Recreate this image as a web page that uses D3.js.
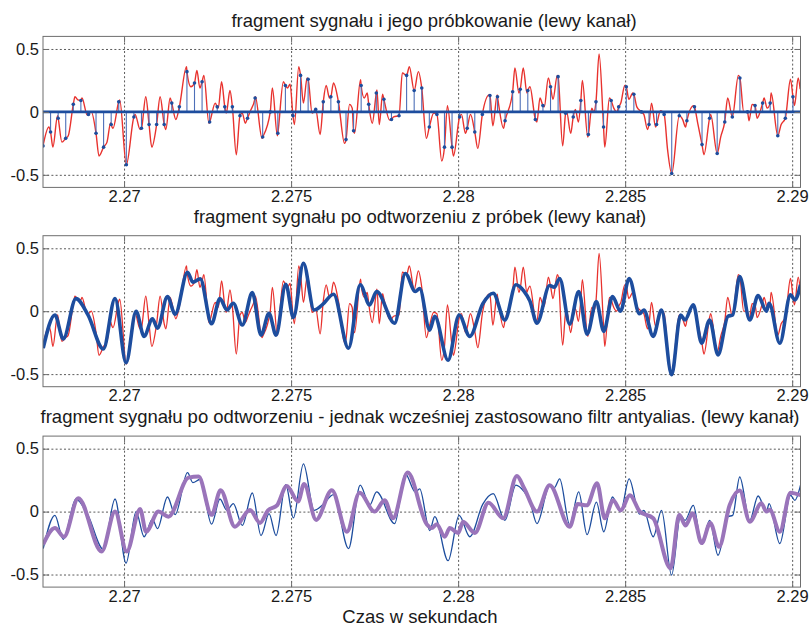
<!DOCTYPE html>
<html>
<head>
<meta charset="utf-8">
<script src="https://cdn.jsdelivr.net/npm/d3@7"></script>
<style>
  body { margin: 0; background: #fff; }
  svg { display: block; }
  text { font-family: "Liberation Sans", Arial, Helvetica, sans-serif; fill: #1a1a1a; }
</style>
</head>
<body>
<svg id="chart" width="812" height="625"></svg>
<script>
// ---- axis settings -------------------------------------------------------
const xDomain = [2.2675737, 2.2902494];
const yDomain = [-0.6, 0.6];
const xTicks = [2.27, 2.275, 2.28, 2.285, 2.29];
const yTicks = [-0.5, 0, 0.5];

const titles = [
  "fragment sygnału i jego próbkowanie (lewy kanał)",
  "fragment sygnału po odtworzeniu z próbek (lewy kanał)",
  "fragment sygnału po odtworzeniu - jednak wcześniej zastosowano filtr antyalias. (lewy kanał)"
];
const xLabel = "Czas w sekundach";

// ---- sampled signal: 4410 Hz, first sample at 2.2675737 s ----------------
const sampleStart = 2.2675737;
const sampleRate = 4410;
const sampleValues = [
  -0.27, -0.16, -0.05, -0.21, 0.06, 0.09, -0.02, -0.17, -0.28, -0.10,
   0.08, -0.42, -0.04, -0.13, -0.10, -0.10, -0.10, 0.07, 0.04, 0.32,
   0.23, 0.24, -0.08, 0.04, 0.04, 0.04, -0.03, -0.05, 0.11, -0.20,
   0.00, -0.17, 0.21, -0.03, 0.29, 0.26, 0.02, 0.08, 0.12, 0.08,
  -0.22, -0.15, 0.21, 0.06, 0.15, 0.10, -0.06, -0.03, 0.29, 0.17,
   0.19, -0.12, -0.02, -0.28, -0.28, -0.04, -0.13, -0.16, -0.02, 0.13,
   0.12, -0.07, 0.16, 0.18, 0.17, -0.06, 0.05, 0.20, 0.28, -0.01,
  -0.04, 0.09, -0.18, 0.08, -0.12, 0.09, 0.04, 0.20, 0.14, 0.00,
  -0.10, -0.10, -0.02, -0.49, -0.03, -0.07, 0.04, -0.26, -0.05, -0.33,
  -0.08, -0.04, 0.27, 0.00, 0.05, 0.07, 0.07, -0.19, -0.05, 0.12
];

// ---- original (44.1 kHz) signal between the samples ----------------------
const analogTimes = [
  2.26775, 2.26787, 2.26801, 2.26814, 2.26833, 2.26853, 2.26862, 2.26874, 2.26890, 2.26902,
  2.26925, 2.26949, 2.26960, 2.26967, 2.26987, 2.27033, 2.27048, 2.27065, 2.27083, 2.27108,
  2.27125, 2.27138, 2.27155, 2.27187, 2.27200, 2.27218, 2.27227, 2.27239, 2.27254, 2.27273,
  2.27282, 2.27292, 2.27306, 2.27317, 2.27336, 2.27354, 2.27363, 2.27377, 2.27393, 2.27413,
  2.27444, 2.27459, 2.27477, 2.27489, 2.27497, 2.27510, 2.27523, 2.27537, 2.27548, 2.27563,
  2.27587, 2.27605, 2.27615, 2.27627, 2.27660, 2.27675, 2.27683, 2.27690, 2.27708, 2.27719,
  2.27728, 2.27743, 2.27757, 2.27764, 2.27774, 2.27795, 2.27807, 2.27833, 2.27854, 2.27881,
  2.27905, 2.27927, 2.27951, 2.27968, 2.27986, 2.28010, 2.28022, 2.28037, 2.28059, 2.28093,
  2.28104, 2.28117, 2.28136, 2.28170, 2.28182, 2.28195, 2.28206, 2.28215, 2.28236, 2.28245,
  2.28258, 2.28270, 2.28284, 2.28297, 2.28313, 2.28325, 2.28337, 2.28351, 2.28360, 2.28372,
  2.28388, 2.28400, 2.28406, 2.28422, 2.28439, 2.28453, 2.28466, 2.28475, 2.28487, 2.28499,
  2.28511, 2.28523, 2.28535, 2.28556, 2.28567, 2.28579, 2.28591, 2.28606, 2.28627, 2.28672,
  2.28681, 2.28705, 2.28718, 2.28736, 2.28756, 2.28786, 2.28807, 2.28839, 2.28855, 2.28871,
  2.28880, 2.28895, 2.28916, 2.28925, 2.28937, 2.28967, 2.28995, 2.29007, 2.29018, 2.29024
];
const analogValues = [
  -0.12, -0.28, -0.03, -0.24, -0.19, 0.12, 0.095, 0.11, -0.025, 0.00,
  -0.35, -0.24, -0.085, -0.13, 0.095, -0.02, -0.14, 0.12, -0.28, 0.12,
  -0.14, 0.11, -0.06, 0.36, 0.20, 0.33, 0.19, 0.29, -0.09, 0.07,
   0.03, 0.24, -0.01, 0.17, -0.34, -0.01, -0.09, 0.00, 0.12, -0.21,
   0.19, -0.19, 0.24, 0.19, 0.22, -0.10, 0.36, 0.07, 0.27, -0.01,
  -0.18, 0.21, 0.11, 0.23, -0.25, 0.06, 0.03, -0.17, 0.255, 0.11,
   0.15, -0.09, 0.175, -0.10, 0.14, -0.065, -0.04, 0.31, 0.36, 0.32,
  -0.21, -0.01, -0.39, 0.05, -0.35, -0.02, -0.17, -0.02, -0.29, 0.135,
  -0.11, 0.135, -0.13, 0.35, 0.15, 0.35, 0.15, 0.20, -0.08, 0.11,
   0.04, 0.27, 0.10, 0.29, -0.27, 0.00, -0.17, 0.02, -0.08, 0.25,
  -0.20, 0.03, 0.00, 0.46, -0.28, 0.11, 0.03, 0.00, 0.07, 0.21,
   0.10, 0.15, 0.04, -0.02, -0.14, 0.07, -0.12, 0.01, -0.30, -0.06,
  -0.12, 0.05, -0.10, -0.34, -0.02, -0.20, 0.11, 0.29, 0.00, -0.07,
   0.06, -0.05, 0.11, 0.03, 0.15, -0.10, 0.26, 0.05, 0.27, 0.18
];

// ---- signal rebuilt from the samples --------------------------------------
const rebuiltTimes = [
  2.26758, 2.26793, 2.26818, 2.26856, 2.26892, 2.26938, 2.26973, 2.27006, 2.27036, 2.27060,
  2.27085, 2.27100, 2.27130, 2.27153, 2.27190, 2.27206, 2.27228, 2.27262, 2.27287, 2.27308,
  2.27327, 2.27354, 2.27384, 2.27410, 2.27434, 2.27455, 2.27484, 2.27507, 2.27537, 2.27569,
  2.27593, 2.27627, 2.27672, 2.27707, 2.27735, 2.27756, 2.27810, 2.27842, 2.27872, 2.27885,
  2.27915, 2.27930, 2.27970, 2.28003, 2.28035, 2.28074, 2.28105, 2.28140, 2.28173, 2.28197,
  2.28215, 2.28236, 2.28274, 2.28288, 2.28304, 2.28334, 2.28361, 2.28386, 2.28414, 2.28436,
  2.28462, 2.28486, 2.28512, 2.28543, 2.28556, 2.28584, 2.28609, 2.28639, 2.28666, 2.28679,
  2.28704, 2.28729, 2.28753, 2.28778, 2.28808, 2.28822, 2.28843, 2.28873, 2.28898, 2.28923,
  2.28931, 2.28963, 2.28995, 2.29008, 2.29025
];
const rebuiltValues = [
  -0.294, -0.03, -0.22, 0.10, -0.03, -0.30, 0.10, -0.41, 0.00, -0.20,
  -0.06, -0.135, 0.116, -0.024, 0.31, 0.23, 0.257, -0.10, 0.10, 0.01,
   0.063, -0.11, 0.148, -0.19, -0.016, -0.19, 0.214, -0.05, 0.38, 0.01,
   0.05, 0.135, -0.294, 0.21, 0.05, 0.156, -0.095, 0.30, 0.156, 0.18,
  -0.15, -0.04, -0.39, -0.03, -0.20, 0.06, 0.143, -0.07, 0.21, 0.16,
   0.08, -0.095, 0.204, 0.19, 0.26, -0.103, 0.156, -0.183, 0.076, -0.16,
   0.116, 0.00, 0.26, -0.02, 0.01, -0.20, 0.01, -0.505, -0.03, -0.07,
   0.05, -0.254, -0.07, -0.347, -0.04, -0.03, 0.275, -0.07, 0.124, 0.00,
   0.063, -0.254, 0.13, 0.09, 0.21
];

// ---- rebuilt signal with anti-alias filtering before sampling -------------
const filteredTimes = [
  2.26758, 2.26793, 2.26820, 2.26863, 2.26933, 2.26973, 2.27008, 2.27048, 2.27066, 2.27103,
  2.27133, 2.27193, 2.27223, 2.27262, 2.27289, 2.27332, 2.27377, 2.27407, 2.27431, 2.27458,
  2.27487, 2.27521, 2.27539, 2.27575, 2.27622, 2.27667, 2.27705, 2.27750, 2.27780, 2.27805,
  2.27849, 2.27906, 2.27921, 2.27936, 2.27960, 2.27975, 2.28000, 2.28015, 2.28050, 2.28091,
  2.28135, 2.28176, 2.28197, 2.28236, 2.28274, 2.28334, 2.28358, 2.28385, 2.28416, 2.28439,
  2.28464, 2.28487, 2.28514, 2.28544, 2.28584, 2.28636, 2.28662, 2.28681, 2.28702, 2.28729,
  2.28755, 2.28781, 2.28813, 2.28843, 2.28873, 2.28908, 2.28923, 2.28933, 2.28963, 2.28995,
  2.29025
];
const filteredValues = [
  -0.26, -0.13, -0.20, 0.106, -0.317, 0.00, -0.317, 0.02, -0.16, 0.00,
  -0.04, 0.27, 0.278, -0.026, 0.17, -0.12, 0.013, -0.09, 0.01, 0.05,
   0.204, 0.08, 0.22, -0.066, 0.17, -0.16, 0.15, 0.00, 0.09, -0.053,
   0.31, -0.10, -0.13, -0.10, -0.20, -0.13, -0.17, -0.08, -0.17, 0.07,
  -0.053, 0.283, 0.19, 0.00, 0.21, -0.12, 0.06, 0.05, 0.225, -0.053,
   0.09, 0.01, 0.13, 0.00, -0.053, -0.45, -0.026, -0.11, -0.013, -0.25,
  -0.09, -0.28, 0.053, 0.167, -0.08, 0.066, 0.00, 0.015, -0.16, 0.15,
   0.13
];

// ---- colours ---------------------------------------------------------------
const RED = "#e8322e";
const BLUE = "#1d4d9e";
const STEM = "#4d6fb8";
const PURPLE = "#9a74ba";
const FRAME = "#6e6e6e";
const GRID = "#5a5a5a";

// ---- layout ----------------------------------------------------------------
const plotLeft = 43, plotRight = 800.5, plotHeight = 151;
const panelTops = [36.4, 235.7, 436.1];
const titleBaselines = [26.5, 222.7, 422.7];

const svg = d3.select("#chart");
svg.append("rect").attr("width", 812).attr("height", 625).attr("fill", "#fff");

const x = d3.scaleLinear().domain(xDomain).range([plotLeft, plotRight]);

const zip = (ts, vs) => ts.map((t, i) => ({ t, v: vs[i] }));
const samples = sampleValues.map((v, k) => ({ t: sampleStart + k / sampleRate, v }));

// original signal: samples plus the detail between them, in time order
const analog = zip(analogTimes, analogValues).concat(samples)
  .sort((a, b) => a.t - b.t)
  .filter((d, i, arr) => i === 0 || d.t - arr[i - 1].t > 1e-7);
const rebuilt = zip(rebuiltTimes, rebuiltValues);
const filtered = zip(filteredTimes, filteredValues);

function panel(index) {
  const top = panelTops[index];
  const y = d3.scaleLinear().domain(yDomain).range([top + plotHeight, top]);
  const g = svg.append("g");

  const clipId = "clip" + index;
  svg.append("clipPath").attr("id", clipId)
    .append("rect").attr("x", plotLeft).attr("y", top)
    .attr("width", plotRight - plotLeft).attr("height", plotHeight);

  // dotted grid
  const gx = g.append("g").attr("transform", `translate(0,${top + plotHeight})`)
    .call(d3.axisBottom(x).tickValues(xTicks).tickSize(-plotHeight).tickFormat(""));
  const gy = g.append("g").attr("transform", `translate(${plotLeft},0)`)
    .call(d3.axisLeft(y).tickValues(yTicks).tickSize(-(plotRight - plotLeft)).tickFormat(""));
  [gx, gy].forEach(a => {
    a.select(".domain").remove();
    a.selectAll("line").attr("stroke", GRID).attr("stroke-width", 1).attr("stroke-dasharray", "2,2.2");
  });

  const plot = g.append("g").attr("clip-path", `url(#${clipId})`);
  const line = d3.line().x(d => x(d.t)).y(d => y(d.v)).curve(d3.curveMonotoneX);

  return { g, y, plot, line, top };
}

function frame(p) {
  const { g, y, top } = p;
  g.append("rect").attr("x", plotLeft).attr("y", top)
    .attr("width", plotRight - plotLeft).attr("height", plotHeight)
    .attr("fill", "none").attr("stroke", FRAME).attr("stroke-width", 1);

  const bottom = g.append("g").attr("transform", `translate(0,${top + plotHeight})`)
    .call(d3.axisBottom(x).tickValues(xTicks).tickSizeInner(-6).tickSizeOuter(0)
      .tickPadding(3).tickFormat(d => String(d)));
  const topAxis = g.append("g").attr("transform", `translate(0,${top})`)
    .call(d3.axisTop(x).tickValues(xTicks).tickSizeInner(-6).tickSizeOuter(0).tickFormat(""));
  const left = g.append("g").attr("transform", `translate(${plotLeft},0)`)
    .call(d3.axisLeft(y).tickValues(yTicks).tickSizeInner(-6).tickSizeOuter(0)
      .tickPadding(4).tickFormat(d => String(d)));
  const right = g.append("g").attr("transform", `translate(${plotRight},0)`)
    .call(d3.axisRight(y).tickValues(yTicks).tickSizeInner(-6).tickSizeOuter(0).tickFormat(""));
  [bottom, topAxis, left, right].forEach(a => {
    a.select(".domain").remove();
    a.selectAll("line").attr("stroke", FRAME);
    a.selectAll("text").attr("font-size", 16.5).attr("fill", "#1a1a1a")
      .attr("font-family", '"Liberation Sans", Arial, sans-serif');
  });
}

// ---- panel 1: original signal with its samples ----------------------------
{
  const p = panel(0);
  p.plot.append("path").datum(analog).attr("d", p.line)
    .attr("fill", "none").attr("stroke", RED).attr("stroke-width", 1.4);
  p.plot.selectAll(".stem").data(samples).join("line")
    .attr("x1", d => x(d.t)).attr("x2", d => x(d.t))
    .attr("y1", p.y(0)).attr("y2", d => p.y(d.v))
    .attr("stroke", STEM).attr("stroke-width", 1.1);
  p.plot.append("line").attr("x1", plotLeft).attr("x2", plotRight)
    .attr("y1", p.y(0)).attr("y2", p.y(0))
    .attr("stroke", BLUE).attr("stroke-width", 2.6);
  p.plot.selectAll(".dot").data(samples).join("circle")
    .attr("cx", d => x(d.t)).attr("cy", d => p.y(d.v)).attr("r", 1.8)
    .attr("fill", BLUE);
  frame(p);
}

// ---- panel 2: original vs rebuilt -----------------------------------------
{
  const p = panel(1);
  p.plot.append("path").datum(analog).attr("d", p.line)
    .attr("fill", "none").attr("stroke", RED).attr("stroke-width", 1.3);
  p.plot.append("path").datum(rebuilt).attr("d", p.line)
    .attr("fill", "none").attr("stroke", BLUE).attr("stroke-width", 3.6)
    .attr("stroke-linejoin", "round");
  frame(p);
}

// ---- panel 3: rebuilt vs rebuilt with anti-alias filter -------------------
{
  const p = panel(2);
  p.plot.append("path").datum(rebuilt).attr("d", p.line)
    .attr("fill", "none").attr("stroke", BLUE).attr("stroke-width", 1.3);
  p.plot.append("path").datum(filtered).attr("d", p.line)
    .attr("fill", "none").attr("stroke", PURPLE).attr("stroke-width", 4)
    .attr("stroke-linejoin", "round");
  frame(p);
}

// ---- titles and axis label -------------------------------------------------
const titleCenters = [434, 420, 420];
titles.forEach((t, i) => {
  svg.append("text").attr("x", titleCenters[i]).attr("y", titleBaselines[i])
    .attr("text-anchor", "middle").attr("font-size", 18.5).text(t);
});
svg.append("text").attr("x", 420).attr("y", 622.5)
  .attr("text-anchor", "middle").attr("font-size", 18.5).text(xLabel);
</script>
</body>
</html>
